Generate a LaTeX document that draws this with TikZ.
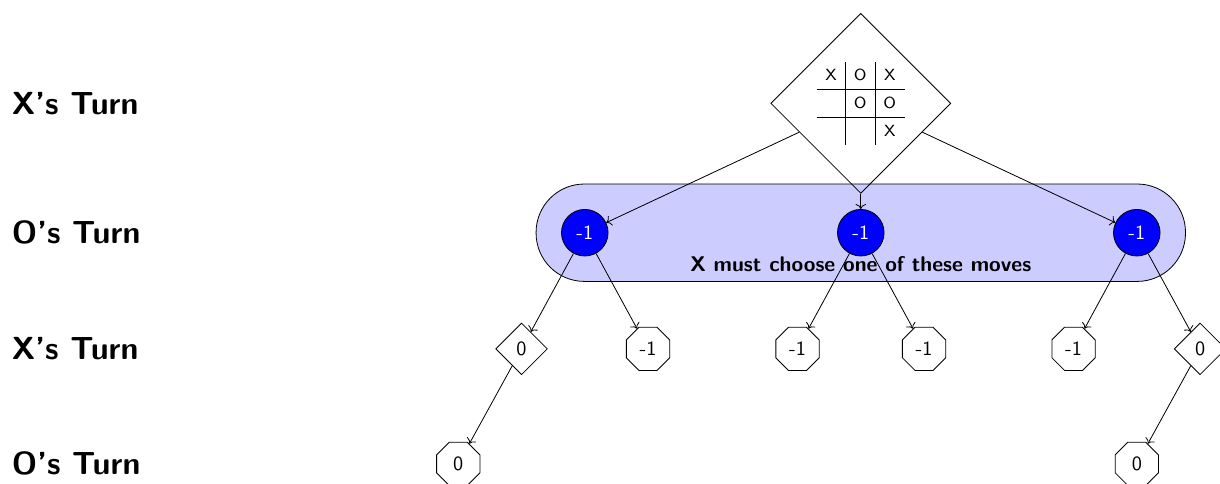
\documentclass[tikz,border=0pt]{standalone}
\usepackage{tikz}
\usetikzlibrary{positioning,arrows.meta,shapes.geometric,fit,backgrounds}
\renewcommand{\familydefault}{\sfdefault}

\begin{document}
\begin{tikzpicture}[
		on grid,
		xnode/.style={
			diamond,
			draw,
			minimum size=0.9cm,
			inner sep=0pt
		},
		onode/.style={
			circle,
			draw,
			fill=blue,
			text=white,
			minimum size=0.81cm,
			inner sep=0pt
		},
		term/.style={
			regular polygon,
			regular polygon sides=8,
			draw,
			minimum size=0.815cm,
			inner sep=0pt
		},
		turnlabel/.style={
			anchor=west,
			inner sep=0pt,
			font=\fontsize{15.8}{18}\selectfont\bfseries
		},
		banner/.style={
			draw,
			fill=blue!20,
			rounded corners=0.84cm,
			inner sep=0.435cm
		}
		]
		\useasboundingbox (0,0) rectangle (21.217,-8.4);
		
		% the board where X is to move
		\node (root) [xnode, minimum size=3.13cm] at (14.97,-1.797) {\footnotesize
			\setlength{\tabcolsep}{4.2pt}\renewcommand{\arraystretch}{1.41}%
			\begin{tabular}{c|c|c}
				X & O & X\\ \hline
				  & O & O\\ \hline
				  &   & X
			\end{tabular}};
		
		\node (o2) [onode, below=2.25cm of root] {-1};
		\node (o1) [onode, left=4.8cm of o2] {-1};
		\node (o3) [onode, right=4.8cm of o2] {-1};
		
		\node (x1) [xnode, below left=2.02cm and 1.1cm of o1] {0};
		\node (x2) [term, below right=2.02cm and 1.1cm of o1] {-1};
		\node (x3) [term, below left=2.02cm and 1.1cm of o2] {-1};
		\node (x4) [term, below right=2.02cm and 1.1cm of o2] {-1};
		\node (x5) [term, below left=2.02cm and 1.1cm of o3] {-1};
		\node (x6) [xnode, below right=2.02cm and 1.1cm of o3] {0};
		
		\node (e1) [term, below left=2cm and 1.1cm of x1] {0};
		\node (e2) [term, below left=2cm and 1.1cm of x6] {0};
		
		\begin{pgfonlayer}{background}
			\node (pick) [banner, fit=(o1)(o3)] {};
		\end{pgfonlayer}
		\node (pickText) [below=0.54cm of o2, font=\fontsize{10.5}{12}\selectfont\bfseries] {X must choose one of these moves};
		
		\node (t1) [turnlabel] at (0.2,0 |- root) {X's Turn};
		\node (t2) [turnlabel] at (0.2,0 |- o1) {O's Turn};
		\node (t3) [turnlabel] at (0.2,0 |- x1) {X's Turn};
		\node (t4) [turnlabel] at (0.2,0 |- e1) {O's Turn};
		
		\draw[->] (root)--(o1);
		\draw[->] (root)--(o2);
		\draw[->] (root)--(o3);
		\draw[->] (o1)--(x1);
		\draw[->] (o1)--(x2);
		\draw[->] (o2)--(x3);
		\draw[->] (o2)--(x4);
		\draw[->] (o3)--(x5);
		\draw[->] (o3)--(x6);
		\draw[->] (x1)--(e1);
		\draw[->] (x6)--(e2);
		
	\end{tikzpicture}
\end{document}
